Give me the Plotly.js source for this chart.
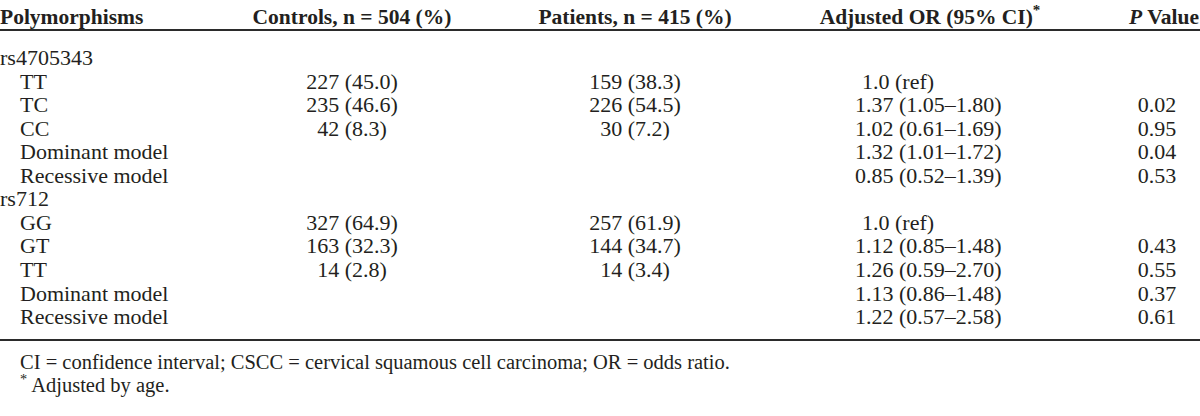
<!DOCTYPE html>
<html>
<head>
<meta charset="utf-8">
<script src="https://cdn.plot.ly/plotly-3.0.1.min.js"></script>
<style>
  html, body { margin: 0; padding: 0; background: #ffffff; }
  #chart { width: 1200px; height: 416px; }
</style>
</head>
<body>
<div id="chart"></div>
<script>
// ---------------- DATA ----------------
const headers = ['Polymorphisms', 'Controls, n = 504 (%)', 'Patients, n = 415 (%)', 'Adjusted OR (95% CI)<sup>*</sup>', '<i>P</i> Value'];
const rowLabels = ['rs4705343', 'TT', 'TC', 'CC', 'Dominant model', 'Recessive model',
                   'rs712', 'GG', 'GT', 'TT', 'Dominant model', 'Recessive model'];
const controlsN   = [null, 227, 235, 42, null, null, null, 327, 163, 14, null, null];
const controlsPct = [null, 45.0, 46.6, 8.3, null, null, null, 64.9, 32.3, 2.8, null, null];
const patientsN   = [null, 159, 226, 30, null, null, null, 257, 144, 14, null, null];
const patientsPct = [null, 38.3, 54.5, 7.2, null, null, null, 61.9, 34.7, 3.4, null, null];
const orValue = [null, 1.0, 1.37, 1.02, 1.32, 0.85, null, 1.0, 1.12, 1.26, 1.13, 1.22];
const ciLow   = [null, null, 1.05, 0.61, 1.01, 0.52, null, null, 0.85, 0.59, 0.86, 0.57];
const ciHigh  = [null, null, 1.80, 1.69, 1.72, 1.39, null, null, 1.48, 2.70, 1.48, 2.58];
const pValue  = [null, null, 0.02, 0.95, 0.04, 0.53, null, null, 0.43, 0.55, 0.37, 0.61];
const footnotes = ['CI = confidence interval; CSCC = cervical squamous cell carcinoma; OR = odds ratio.',
                   '<sup>*</sup> Adjusted by age.'];

// ---------------- LAYOUT CONSTANTS ----------------
const W = 1200, H = 416;
const FONT = '"Liberation Serif", "Times New Roman", Times, serif';
const INK = '#231f20';
const FS = 22;
const HFS = 21.5;
const headerY = 19;
const rowY0 = 59.5, rowStep = 23.55;
const ruleTop = 30, ruleBottom = 340;
const footY0 = 363.5, footStep = 23.5;
const labelX = 0, indentX = 20;
const headerX = [0, 352, 635, 930, 1199];
const headerPos = ['middle right', 'middle center', 'middle center', 'middle center', 'middle left'];
const colPos = { controls: 352, patients: 635, orLeft: 855, refLeft: 862, p: 1157 };

// ---------------- FORMATTING ----------------
const rowY = rowLabels.map((_, i) => rowY0 + i * rowStep);
const fmtCount = (n, p) => (n === null ? '' : n + ' (' + p.toFixed(1) + ')');
const controlsText = controlsN.map((n, i) => fmtCount(n, controlsPct[i]));
const patientsText = patientsN.map((n, i) => fmtCount(n, patientsPct[i]));
const isRef = orValue.map((v, i) => v !== null && ciLow[i] === null);
const orText = orValue.map((v, i) => v === null ? '' :
  (isRef[i] ? v.toFixed(1) + ' (ref)' :
   v.toFixed(2) + ' (' + ciLow[i].toFixed(2) + '\u2013' + ciHigh[i].toFixed(2) + ')'));
const pText = pValue.map(v => v === null ? '' : v.toFixed(2));
const labelXs = rowLabels.map(l => l.startsWith('rs') ? labelX : indentX);
const orXs = isRef.map(r => r ? colPos.refLeft : colPos.orLeft);

function textTrace(x, y, text, pos, extraFont) {
  const keep = text.map((t, i) => t !== '' ? i : -1).filter(i => i >= 0);
  const pick = a => Array.isArray(a) ? keep.map(i => a[i]) : a;
  return {
    type: 'scatter', mode: 'text', x: pick(x), y: pick(y), text: pick(text),
    textposition: pick(pos), hoverinfo: 'skip', cliponaxis: false,
    textfont: Object.assign({ family: FONT, size: FS, color: INK }, extraFont || {})
  };
}

const traces = [
  textTrace(headerX, headers.map(() => headerY), headers, headerPos, { weight: 'bold', size: HFS }),
  textTrace(labelXs, rowY, rowLabels, 'middle right'),
  textTrace(rowY.map(() => colPos.controls), rowY, controlsText, 'middle center'),
  textTrace(rowY.map(() => colPos.patients), rowY, patientsText, 'middle center'),
  textTrace(orXs, rowY, orText, 'middle right'),
  textTrace(rowY.map(() => colPos.p), rowY, pText, 'middle center'),
  textTrace(footnotes.map(() => indentX), footnotes.map((_, i) => footY0 + i * footStep), footnotes, 'middle right', { size: 20.5 })
];

const layout = {
  width: W, height: H,
  margin: { l: 0, r: 0, t: 0, b: 0 },
  paper_bgcolor: '#ffffff', plot_bgcolor: '#ffffff',
  showlegend: false,
  xaxis: { range: [0, W], visible: false, fixedrange: true },
  yaxis: { range: [H, 0], visible: false, fixedrange: true },
  shapes: [ruleTop, ruleBottom].map(y => ({
    type: 'line', xref: 'x', yref: 'y', x0: 0, x1: W, y0: y, y1: y,
    line: { color: '#2b2b2b', width: 2 }
  }))
};

Plotly.newPlot('chart', traces, layout, { staticPlot: true, displayModeBar: false });
</script>
</body>
</html>
